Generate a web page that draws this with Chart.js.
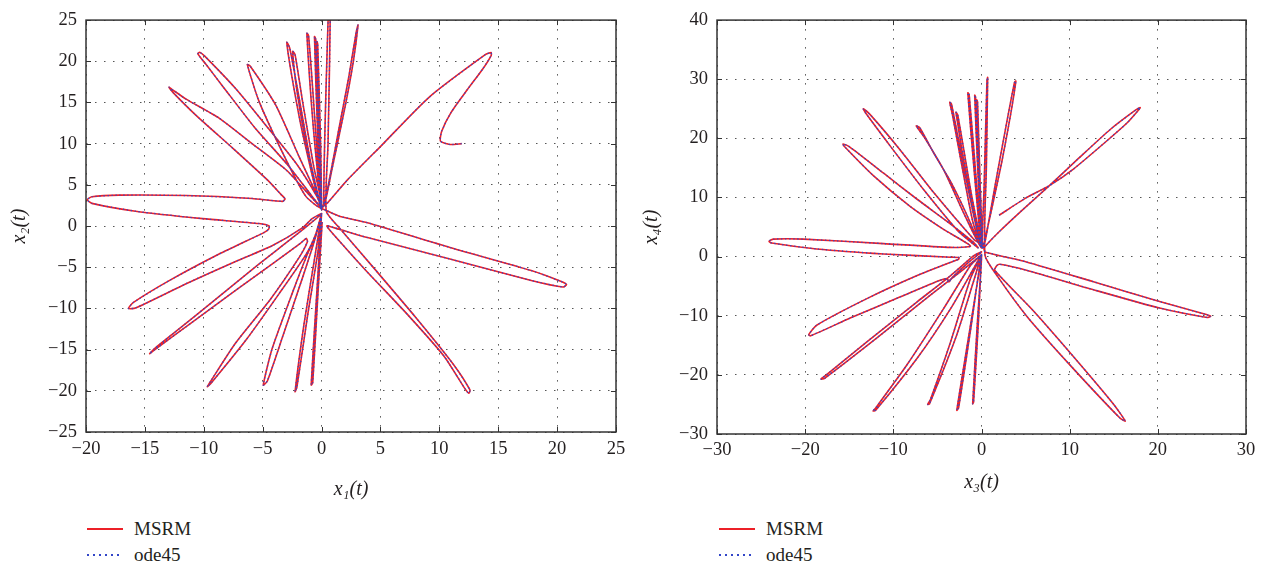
<!DOCTYPE html>
<html>
<head>
<meta charset="utf-8">
<script src="https://cdn.jsdelivr.net/npm/chart.js@4"></script>
<style>
body{margin:0;background:#fff;width:1266px;height:569px;position:relative;overflow:hidden;font-family:"Liberation Serif",serif;color:#231f20}
.box{position:absolute;top:0}
.key{position:absolute;font-size:19px;line-height:20px;height:20px;width:140px}
.key .sw{position:absolute;left:0;top:9px;width:36px;height:2px}
.key span{position:absolute;left:47px;top:0;white-space:nowrap}
.sw.solid{background:rgb(236,32,40);height:1.5px}
.sw.dot{background:repeating-linear-gradient(to right,rgb(50,70,200) 0 2px,transparent 2px 6px)}
</style>
</head>
<body>
<div class="box" style="left:0"><canvas id="left" width="640" height="502"></canvas></div>
<div class="box" style="left:640px"><canvas id="right" width="626" height="495"></canvas></div>

<div class="key" style="left:87px;top:519px"><div class="sw solid"></div><span>MSRM</span></div>
<div class="key" style="left:87px;top:545px"><div class="sw dot"></div><span>ode45</span></div>
<div class="key" style="left:719px;top:519px"><div class="sw solid"></div><span>MSRM</span></div>
<div class="key" style="left:719px;top:545px"><div class="sw dot"></div><span>ode45</span></div>

<script>
// x1-x2 trajectory (left panel), one petal per line
const x1 = [
11.9,10.9,10.1,10.2,11.0,12.4,13.7,14.4,14.4,13.9,9.1,5.1,2.2,0.5,0.0,
0.4,1.5,3.9,10.9,17.8,20.3,20.8,20.5,17.8,10.9,3.9,1.5,0.45,
2.0,3.9,7.4,10.4,12.2,12.5,12.6,11.2,8.0,4.5,1.5,0.4,
0.55,0.75,0.6,0.2,
0.9,2.0,2.7,3.1,2.95,2.3,1.5,0.5,0.0,
-0.25,-0.4,-0.33,-0.1,0.0,
-0.35,-0.6,-0.5,-0.2,0.0,
-0.7,-1.25,-1.1,-0.5,-0.1,
-1.6,-2.5,-2.95,-2.7,-1.9,-0.9,-0.1,
-1.3,-2.1,-2.45,-2.25,-1.6,-0.7,0.0,
-1.33,-3.0,-5.3,-6.3,-6.05,-3.9,-1.9,-0.48,0.0,
-0.8,-2.8,-5.7,-8.3,-9.8,-10.5,-10.35,-9.9,-7.3,-4.6,-2.0,-0.4,0.0,
-0.8,-3.0,-5.9,-8.7,-11.5,-12.7,-12.95,-12.6,-10.7,-7.5,-4.6,-3.45,-3.1,-3.3,
-5.9,-11.5,-17.2,-19.5,-19.9,-19.5,-15.8,-10.1,-5.3,-4.45,-4.5,-4.9,
-8.7,-12.9,-16.0,-16.4,-15.8,-11.5,-7.3,-4.2,-1.6,-0.8,0.0,
-2.0,-5.3,-9.0,-12.5,-14.2,-14.6,-14.2,-11.0,-7.3,-4.0,-1.8,-1.3,
-1.2,-1.9,-4.4,-7.3,-9.4,-9.7,-9.4,-6.4,-3.6,-1.3,-0.5,0.0,
-0.5,-1.2,-2.5,-4.2,-4.95,-4.6,-3.3,-1.6,-0.5,0.0,
-0.6,-1.5,-2.25,-2.1,-1.2,-0.3,0.0,
-0.4,-0.88,-0.75,-0.3,0.05
]
const x2 = [
10.0,9.9,10.3,11.5,13.8,16.6,19.1,20.7,21.05,20.8,15.6,9.8,5.6,2.8,2.2,
1.9,1.2,0.4,-2.6,-5.4,-6.7,-7.1,-7.4,-6.6,-4.0,-1.4,-0.4,0.0,
-2.6,-5.6,-10.9,-15.8,-19.8,-20.3,-19.9,-16.8,-11.1,-5.2,-0.2,1.8,
10.0,27.0,27.0,2.5,
7.0,14.5,20.0,24.4,23.6,18.0,12.0,4.5,2.0,
12.0,22.4,22.1,11.0,2.0,
12.0,23.0,22.7,11.5,2.0,
12.0,23.4,23.1,11.5,2.5,
11.2,18.0,22.3,21.6,15.5,7.5,2.5,
10.0,16.5,21.2,20.8,15.0,7.5,2.2,
3.6,8.0,15.1,19.6,19.4,14.7,8.4,4.0,2.2,
3.6,7.3,12.0,16.8,19.6,20.9,21.1,20.6,16.7,12.0,7.3,3.6,2.2,
3.4,6.8,10.0,13.1,15.4,16.6,16.85,16.2,13.5,9.4,5.6,3.85,3.3,3.0,
3.35,3.7,3.75,3.55,3.2,2.75,1.8,0.9,0.3,0.0,-0.4,-0.8,
-3.4,-6.6,-9.3,-10.0,-9.95,-7.0,-4.3,-2.4,-0.2,0.9,1.5,
-0.9,-4.6,-8.9,-12.95,-14.9,-15.5,-15.05,-11.7,-7.8,-4.4,-2.1,-1.5,
-1.9,-3.8,-9.0,-14.2,-18.8,-19.5,-19.1,-13.8,-8.2,-3.4,-1.0,1.5,
-1.2,-3.4,-8.2,-14.9,-19.3,-18.8,-13.4,-6.2,-1.3,1.5,
-4.0,-12.0,-20.1,-19.6,-11.0,-3.0,1.5,
-8.0,-19.3,-19.0,-8.0,0.5
]

// x3-x4 trajectory (right panel)
const x3 = [
2.0,5.0,7.7,10.5,14.0,16.5,17.7,18.0,17.5,14.6,11.0,7.7,4.5,2.0,0.3,
0.4,5.1,12.7,20.2,25.5,26.0,25.6,20.2,12.7,5.1,2.1,1.75,1.5,
5.9,11.0,15.0,16.3,15.7,10.2,5.2,1.8,0.4,
0.55,0.7,0.62,0.3,0.1,
1.0,2.3,3.3,3.9,3.75,2.9,1.6,0.4,0.1,
-0.3,-0.54,-0.45,-0.15,0.1,
-0.4,-0.77,-0.68,-0.25,0.0,
-0.8,-1.55,-1.4,-0.6,0.0,
-1.5,-2.9,-2.7,-1.2,0.0,
-1.0,-2.3,-3.3,-3.6,-3.4,-2.0,-0.6,0.0,
-0.6,-2.0,-4.3,-6.5,-7.4,-7.0,-5.3,-3.5,-1.8,-0.4,
-0.8,-5.4,-9.2,-12.5,-13.4,-13.2,-10.3,-6.55,-2.7,-0.4,
-0.9,-3.5,-7.3,-11.1,-15.0,-15.7,-15.6,-12.2,-8.1,-4.3,-1.25,
-3.5,-11.1,-20.2,-23.6,-24.1,-23.8,-18.7,-11.1,-3.5,-2.55,-2.6,-2.9,
-7.3,-13.0,-18.7,-19.6,-19.4,-14.9,-9.2,-4.7,-3.9,-3.7,-3.3,-1.5,0.0,
-0.87,-3.5,-7.3,-13.0,-17.6,-18.2,-17.8,-11.9,-5.8,-2.0,0.0,
-1.25,-4.3,-8.45,-12.0,-12.3,-12.0,-7.3,-3.5,-0.7,0.0,
-1.25,-3.5,-5.8,-6.1,-5.9,-2.8,-0.7,0.0,
-1.4,-2.8,-2.6,-1.2,0.0,
-0.5,-1.0,-0.9,-0.35,0.0
]
const x4 = [
7.0,9.9,12.0,14.9,19.3,22.6,24.6,25.2,24.8,21.5,16.6,12.0,7.7,4.2,1.5,
0.8,-0.9,-4.25,-7.6,-9.8,-10.1,-10.3,-8.7,-5.6,-2.3,-1.3,-1.5,-2.3,
-9.2,-17.9,-25.0,-27.8,-27.3,-18.6,-10.2,-3.3,0.2,
15.0,30.3,29.8,12.0,1.5,
7.0,16.0,24.0,29.7,29.5,23.0,12.5,2.5,1.5,
14.0,26.5,26.2,12.0,1.5,
14.0,27.3,27.0,13.0,1.5,
14.0,27.7,27.4,13.0,1.5,
12.0,24.4,24.0,11.0,1.5,
6.0,16.0,24.0,26.1,25.8,15.0,5.0,1.5,
3.0,7.3,14.7,20.2,22.1,21.8,17.2,12.7,7.5,2.5,
2.8,10.8,18.0,23.8,25.0,24.4,18.6,11.3,4.4,1.5,
2.4,5.5,9.7,14.1,18.6,19.05,18.7,13.6,8.5,4.6,1.8,
1.56,2.2,2.96,2.96,2.6,2.3,1.3,0.45,-0.1,-0.15,-0.45,-0.6,
-3.2,-7.1,-11.6,-13.2,-13.4,-10.4,-6.8,-4.0,-3.7,-4.3,-3.5,-1.0,0.8,
0.17,-3.2,-7.65,-14.4,-20.0,-20.7,-20.6,-13.8,-6.5,-2.1,0.3,
-1.5,-8.8,-18.3,-25.6,-26.1,-26.0,-17.2,-8.8,-1.5,0.3,
-3.7,-14.4,-24.2,-25.0,-24.9,-13.2,-3.2,0.3,
-13.0,-26.0,-25.6,-12.0,0.3,
-12.0,-24.9,-24.6,-11.0,0.5
]

// ode45 curve lies on top of the MSRM curve in the figure
const ode45x1 = x1.slice(), ode45x2 = x2.slice()
const ode45x3 = x3.slice(), ode45x4 = x4.slice()

const leftXTicks = [-20,-15,-10,-5,0,5,10,15,20,25]
const leftYTicks = [-25,-20,-15,-10,-5,0,5,10,15,20,25]
const rightXTicks = [-30,-20,-10,0,10,20,30]
const rightYTicks = [-30,-20,-10,0,10,20,30,40]

const red = 'rgb(236,32,40)'
const blue = 'rgb(50,70,200)'
const serif = '"Liberation Serif", "DejaVu Serif", serif'

function pts(xs, ys){ return xs.map((v,i)=>({x:v, y:ys[i]})) }
const minus = v => String(v).replace('-', '\u2212')

const frame = {
  id:'frame',
  afterDraw(chart){
    const {ctx, chartArea:a, scales} = chart
    ctx.save()
    ctx.strokeStyle = '#333'
    ctx.lineWidth = 1
    ctx.beginPath()
    scales.x.ticks.forEach(t=>{
      const p = Math.round(scales.x.getPixelForValue(t.value)) + 0.5
      ctx.moveTo(p, a.bottom); ctx.lineTo(p, a.bottom-5)
      ctx.moveTo(p, a.top); ctx.lineTo(p, a.top+5)
    })
    scales.y.ticks.forEach(t=>{
      const p = Math.round(scales.y.getPixelForValue(t.value)) + 0.5
      ctx.moveTo(a.left, p); ctx.lineTo(a.left+5, p)
      ctx.moveTo(a.right, p); ctx.lineTo(a.right-5, p)
    })
    ctx.stroke()
    ctx.lineWidth = 1.5
    ctx.strokeRect(a.left, a.top, a.right-a.left, a.bottom-a.top)
    ctx.restore()
  }
}

function makeChart(id, cfg){
  const tickFont = {family: serif, size: 18.5}
  const titleFont = {family: serif, size: 20, style: 'italic'}
  new Chart(document.getElementById(id), {
    type:'scatter',
    data:{
      datasets:[
        {label:'ode45', data:pts(cfg.ox, cfg.oy), showLine:true, borderColor:blue, borderWidth:1.3,
         borderDash:[1.3,2.7], pointRadius:0, tension:0.2},
        {label:'MSRM', data:pts(cfg.xs, cfg.ys), showLine:true, borderColor:red, borderWidth:1.6,
         pointRadius:0, tension:0.2}
      ]
    },
    options:{
      responsive:false, animation:false, events:[],
      layout:{padding:cfg.pad},
      plugins:{legend:{display:false}, tooltip:{enabled:false}},
      scales:{
        x:{
          type:'linear', min:cfg.xt[0], max:cfg.xt[cfg.xt.length-1],
          afterBuildTicks: s => { s.ticks = cfg.xt.map(v=>({value:v})) },
          afterFit: s => { s.height = cfg.xh },
          grid:{color:'#555', lineWidth:1, drawTicks:false},
          border:{display:false, dash:[1.5,7.5]},
          ticks:{font:tickFont, color:'#231f20', padding:cfg.xpad, maxRotation:0, autoSkip:false, callback:minus},
          title:{display:true, text:cfg.xTitle, font:titleFont, color:'#231f20', padding:{top:0,bottom:0}}
        },
        y:{
          type:'linear', min:cfg.yt[0], max:cfg.yt[cfg.yt.length-1],
          afterBuildTicks: s => { s.ticks = cfg.yt.map(v=>({value:v})) },
          afterFit: s => { s.width = cfg.yw },
          grid:{color:'#555', lineWidth:1, drawTicks:false},
          border:{display:false, dash:[1.5,7.5]},
          ticks:{font:tickFont, color:'#231f20', padding:9, autoSkip:false, callback:minus},
          title:{display:true, text:cfg.yTitle, font:titleFont, color:'#231f20', padding:{top:cfg.ytp,bottom:0}}
        }
      }
    },
    plugins:[frame]
  })
}

makeChart('left', {
  xs:x1, ys:x2, ox:ode45x1, oy:ode45x2, xt:leftXTicks, yt:leftYTicks,
  pad:{top:14, right:24, left:0, bottom:0}, xh:70, yw:86, xpad:6, ytp:8,
  xTitle:'x\u2081(t)', yTitle:'x\u2082(t)'
})
makeChart('right', {
  xs:x3, ys:x4, ox:ode45x3, oy:ode45x4, xt:rightXTicks, yt:rightYTicks,
  pad:{top:15, right:20, left:0, bottom:0}, xh:61, yw:77, xpad:5, ytp:0,
  xTitle:'x\u2083(t)', yTitle:'x\u2084(t)'
})
</script>
</body>
</html>
